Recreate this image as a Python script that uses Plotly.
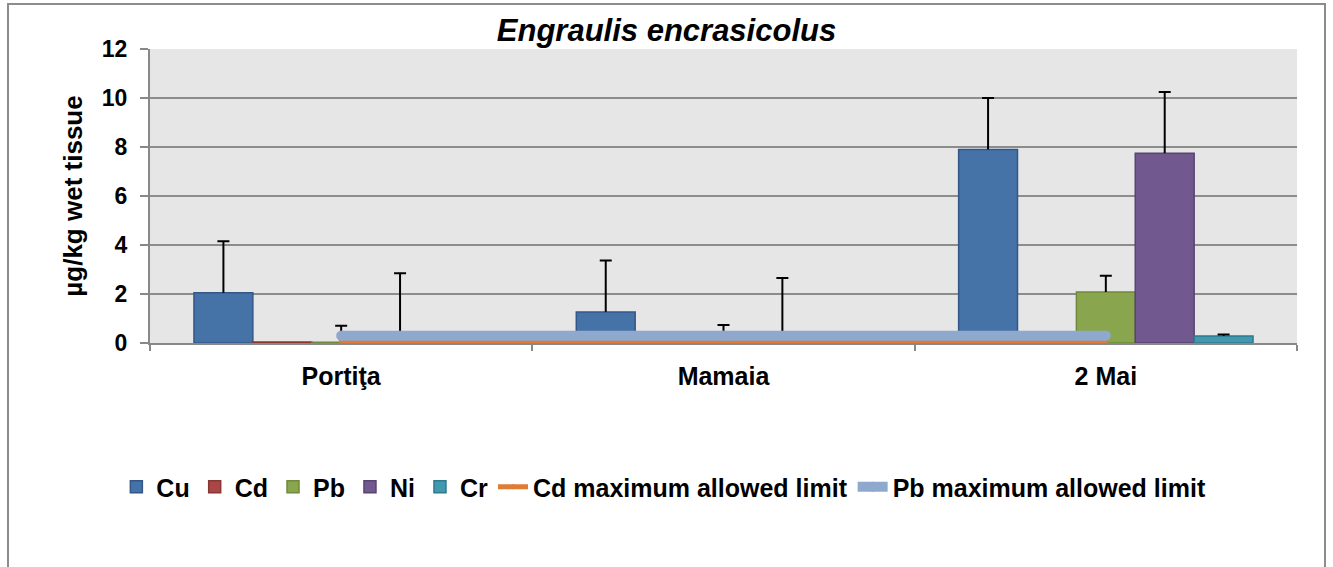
import plotly.graph_objects as go

sites = ["Portiţa", "Mamaia", "2 Mai"]

cu = [2.05, 1.27, 7.9]
cu_err = [2.1, 2.1, 2.1]
cd = [0.04, 0.02, 0.03]
cd_err = [0.0, 0.0, 0.0]
pb = [0.03, 0.03, 2.08]
pb_err = [0.67, 0.7, 0.67]
ni = [0.25, 0.25, 7.75]
ni_err = [2.6, 2.4, 2.5]
cr = [0.0, 0.0, 0.29]
cr_err = [0.0, 0.0, 0.06]

cd_limit = [0.05, 0.05, 0.05]
pb_limit = [0.3, 0.3, 0.3]

bar_series = [
    ("Cu", cu, cu_err, "#4572A7", "#34578A"),
    ("Cd", cd, cd_err, "#AA4643", "#8A3633"),
    ("Pb", pb, pb_err, "#89A54E", "#6E8A3A"),
    ("Ni", ni, ni_err, "#71588F", "#574470"),
    ("Cr", cr, cr_err, "#4198AF", "#2F7A8E"),
]

fig = go.Figure()
for name, vals, errs, fill, edge in bar_series:
    has_err = any(e > 0 for e in errs)
    # bar with the vertical (plus-only) error stroke, no caps
    fig.add_trace(go.Bar(
        x=sites, y=vals, name=name, offsetgroup=name,
        marker=dict(color=fill, line=dict(color=edge, width=1.5)),
        error_y=dict(type="data", symmetric=False, array=errs,
                     arrayminus=[0] * len(errs), color="black",
                     thickness=2, width=0, visible=has_err),
    ))
    # zero-height helper bar at the error tip that draws only the top cap
    if has_err:
        tips = [v + e for v, e in zip(vals, errs)]
        caps = [0 if e > 0 else None for e in errs]
        fig.add_trace(go.Bar(
            x=sites, y=[0] * len(vals), base=tips, offsetgroup=name,
            showlegend=False, hoverinfo="skip",
            marker=dict(color="rgba(0,0,0,0)", line=dict(width=0)),
            error_y=dict(type="data", array=caps, color="black",
                         thickness=2, width=6),
        ))

fig.add_trace(go.Scatter(x=sites, y=cd_limit, name="Cd maximum allowed limit",
                         mode="lines+markers",
                         line=dict(color="#E07B34", width=5),
                         marker=dict(color="#E07B34", size=5)))
fig.add_trace(go.Scatter(x=sites, y=pb_limit, name="Pb maximum allowed limit",
                         mode="lines+markers",
                         line=dict(color="#8FA8CE", width=10),
                         marker=dict(color="#8FA8CE", size=10)))

font_family = "Liberation Sans, Arial, sans-serif"

fig.update_layout(
    width=1333, height=567,
    paper_bgcolor="white",
    plot_bgcolor="#E6E6E6",
    margin=dict(l=150, r=36, t=49, b=224, autoexpand=False),
    barmode="group",
    bargap=0.23,
    bargroupgap=0,
    font=dict(family=font_family, size=22, color="black"),
    title=dict(text="Engraulis encrasicolus", x=0.5, xref="container",
               xanchor="center", y=0.947, yanchor="middle",
               font=dict(family=font_family, size=31, color="black",
                         style="italic", weight="bold")),
    showlegend=True,
    legend=dict(orientation="h", x=0.448, xanchor="center",
                y=-0.49, yanchor="middle",
                font=dict(family=font_family, size=25, color="black",
                          weight="bold"),
                itemwidth=30, tracegroupgap=0, traceorder="normal",
                bgcolor="rgba(0,0,0,0)"),
    xaxis=dict(
        showgrid=False, showline=True, linecolor="#888888", linewidth=2,
        ticks="outside", tickson="boundaries", ticklen=6, tickcolor="#888888",
        tickwidth=2, ticklabelstandoff=10,
        tickfont=dict(family=font_family, size=25, color="black", weight="bold"),
    ),
    yaxis=dict(
        range=[0, 12], dtick=2, showgrid=True, gridcolor="#8C8C8C", gridwidth=2,
        showline=True, linecolor="#888888", linewidth=2,
        ticks="outside", ticklen=8, tickcolor="#888888", tickwidth=2,
        zeroline=False, ticklabelstandoff=8,
        tickfont=dict(family=font_family, size=23, color="black", weight="bold"),
        title=dict(text="µg/kg wet tissue", standoff=12,
                   font=dict(family=font_family, size=26, color="black",
                             weight="bold")),
    ),
    shapes=[dict(type="rect", xref="paper", yref="paper",
                 x0=(8 - 150) / 1147, x1=(1325 - 150) / 1147,
                 y0=(343 - 620) / 294, y1=(343 - 4) / 294,
                 line=dict(color="#8C8C8C", width=2), layer="below")],
)

fig.write_html("out.html", config={"displayModeBar": False},
               post_script="document.body.style.margin='0px';")
